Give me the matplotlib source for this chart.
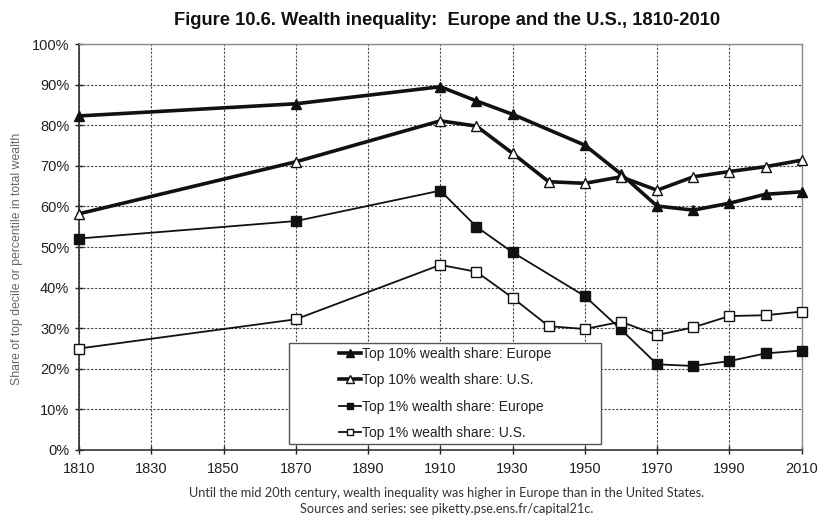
import matplotlib
matplotlib.use("Agg")
import matplotlib.pyplot as plt
from matplotlib.patches import Rectangle
from matplotlib.ticker import PercentFormatter

# data (percent of total wealth)
years_eu = [1810, 1870, 1910, 1920, 1930, 1950, 1960, 1970, 1980, 1990, 2000, 2010]
years_us = [1810, 1870, 1910, 1920, 1930, 1940, 1950, 1960, 1970, 1980, 1990, 2000, 2010]

top10_europe = [82.3, 85.3, 89.5, 86.0, 82.7, 75.1, 68.0, 60.1, 59.1, 60.8, 63.0, 63.6]
top10_us = [58.2, 71.0, 81.1, 79.8, 73.1, 66.1, 65.7, 67.3, 64.0, 67.3, 68.6, 69.8, 71.4]
top1_europe = [52.1, 56.4, 63.9, 55.0, 48.7, 37.9, 29.7, 21.1, 20.7, 21.9, 23.8, 24.5]
top1_us = [25.0, 32.2, 45.6, 43.9, 37.5, 30.5, 29.8, 31.6, 28.3, 30.2, 33.0, 33.2, 34.1]

series_labels = ["Top 10% wealth share: Europe", "Top 10% wealth share: U.S.",
                 "Top 1% wealth share: Europe", "Top 1% wealth share: U.S."]
x_ticks = list(range(1810, 2011, 20))
y_ticks = list(range(0, 101, 10))

title = "Figure 10.6. Wealth inequality:  Europe and the U.S., 1810-2010"
y_label = "Share of top decile or percentile in total wealth"
caption = ("Until the mid 20th century, wealth inequality was higher in Europe than in the United States.\n"
           "Sources and series: see piketty.pse.ens.fr/capital21c.")

plt.rcParams["font.family"] = ["Liberation Sans", "DejaVu Sans"]

fig = plt.figure(figsize=(8.18, 5.19), dpi=100)
ax = fig.add_axes([0.0966, 0.133, 0.8834, 0.782])

ink = "#111111"
ax.plot(years_eu, top10_europe, color=ink, lw=2.6, marker="^", ms=7,
        mfc=ink, mec=ink, label=series_labels[0], zorder=4, clip_on=False)
ax.plot(years_us, top10_us, color=ink, lw=2.6, marker="^", ms=7,
        mfc="white", mec=ink, mew=1.0, label=series_labels[1], zorder=4, clip_on=False)
ax.plot(years_eu, top1_europe, color=ink, lw=1.3, marker="s", ms=6.5,
        mfc=ink, mec=ink, label=series_labels[2], zorder=4, clip_on=False)
ax.plot(years_us, top1_us, color=ink, lw=1.3, marker="s", ms=6.5,
        mfc="white", mec=ink, mew=1.0, label=series_labels[3], zorder=4, clip_on=False)

ax.set_xlim(1810, 2010)
ax.set_ylim(0, 100)
ax.set_xticks(x_ticks)
ax.set_yticks(y_ticks)
ax.yaxis.set_major_formatter(PercentFormatter(decimals=0))
ax.tick_params(axis="both", labelsize=10.5, colors="#222222", direction="inout",
               length=6, width=1.0)
ax.tick_params(axis="x", pad=6)
ax.tick_params(axis="y", pad=4)
ax.grid(True, color="#444444", lw=0.8, ls=(0, (2, 1.5)), zorder=0)

for side in ["top", "right"]:
    ax.spines[side].set_color("#8a8a8a")
    ax.spines[side].set_linewidth(1.0)
for side in ["left", "bottom"]:
    ax.spines[side].set_color("#333333")
    ax.spines[side].set_linewidth(1.2)

ax.set_ylabel(y_label, fontsize=8.8, color="#666666")
ax.yaxis.set_label_coords(-0.078, 0.47)

# legend box
box = Rectangle((0.29, 0.015), 0.433, 0.249, transform=ax.transAxes,
                facecolor="white", edgecolor="#555555", lw=1.0, zorder=5)
ax.add_patch(box)
leg = ax.legend(loc="center", bbox_to_anchor=(0.29 + 0.2165, 0.015 + 0.1245),
                frameon=False, fontsize=10, handlelength=1.6, handletextpad=0.1,
                labelspacing=0.9, markerscale=0.75)
leg.set_zorder(6)
for t in leg.get_texts():
    t.set_color("#222222")

fig.text(0.546, 0.961, title, ha="center", va="center", fontsize=13.2,
         fontweight="bold", color="#111111")
fig.text(0.546, 0.035, caption, ha="center", va="center", fontsize=9.2,
         color="#333333", linespacing=1.35, family=["Lato", "DejaVu Sans"])

fig.savefig("out.png", dpi=100)
